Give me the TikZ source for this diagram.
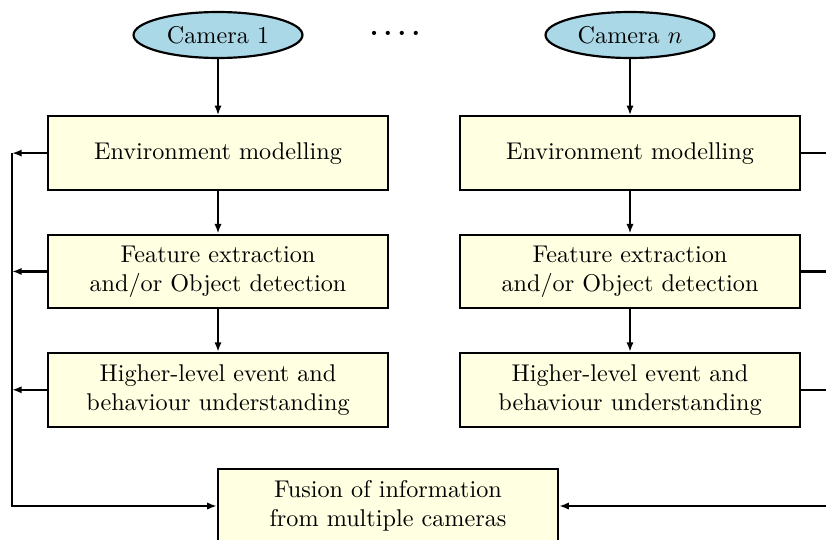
\documentclass[tikz,border=0pt]{standalone}
\usepackage{amsmath}
\usetikzlibrary{arrows.meta,positioning,shapes.geometric}
\definecolor{camblue}{RGB}{170,216,230}
\definecolor{boxyellow}{RGB}{255,255,226}

\begin{document}
\begin{tikzpicture}[x=0.4132pt,y=-0.4132pt,>={Latex[length=4pt,width=3pt]},
  line width=0.9pt,node distance=17.6pt,
  b/.style={draw,fill=boxyellow,align=center,minimum width=140.5pt,
            minimum height=30.4pt,inner sep=2pt},
  cam/.style={draw,ellipse,fill=camblue,minimum width=69.8pt,
              minimum height=19pt,inner sep=1pt}]
  \useasboundingbox (0,0) rectangle (826,539);
  \clip (0,0) rectangle (826,539);
  % cameras
  \node[cam] (cam1) at (218,35) {Camera 1};
  \node[cam] (camn) at (630,35) {Camera $n$};
  \node (dots) at (395,33) {\large\bfseries.\,.\,.\,.};
  % left chain
  \node[b,below=23.2pt of cam1] (env1) {Environment modelling};
  \node[b,below=of env1] (feat1) {Feature extraction\\and/or Object detection};
  \node[b,below=of feat1] (high1) {Higher-level event and\\behaviour understanding};
  % right chain
  \node[b,below=23.2pt of camn] (envn) {Environment modelling};
  \node[b,below=of envn] (featn) {Feature extraction\\and/or Object detection};
  \node[b,below=of featn] (highn) {Higher-level event and\\behaviour understanding};
  % fusion
  \node[b] (fus) at (388,506) {Fusion of information\\from multiple cameras};
  \coordinate (lbus) at (12,0);
  \coordinate (rbus) at (836,0);
  \draw[->] (cam1) -- (env1); \draw[->] (env1) -- (feat1); \draw[->] (feat1) -- (high1);
  \draw[->] (camn) -- (envn); \draw[->] (envn) -- (featn); \draw[->] (featn) -- (highn);
  \foreach \n in {env1,feat1,high1}
    \draw[->] (\n) -- (\n -| lbus);
  \foreach \n in {envn,featn,highn}
    \draw (\n) -- (\n -| rbus);
  \draw[->] (env1 -| lbus) -- (fus -| lbus) -- (fus);
  \draw[->] (envn -| rbus) -- (fus -| rbus) -- (fus);
\end{tikzpicture}
\end{document}
